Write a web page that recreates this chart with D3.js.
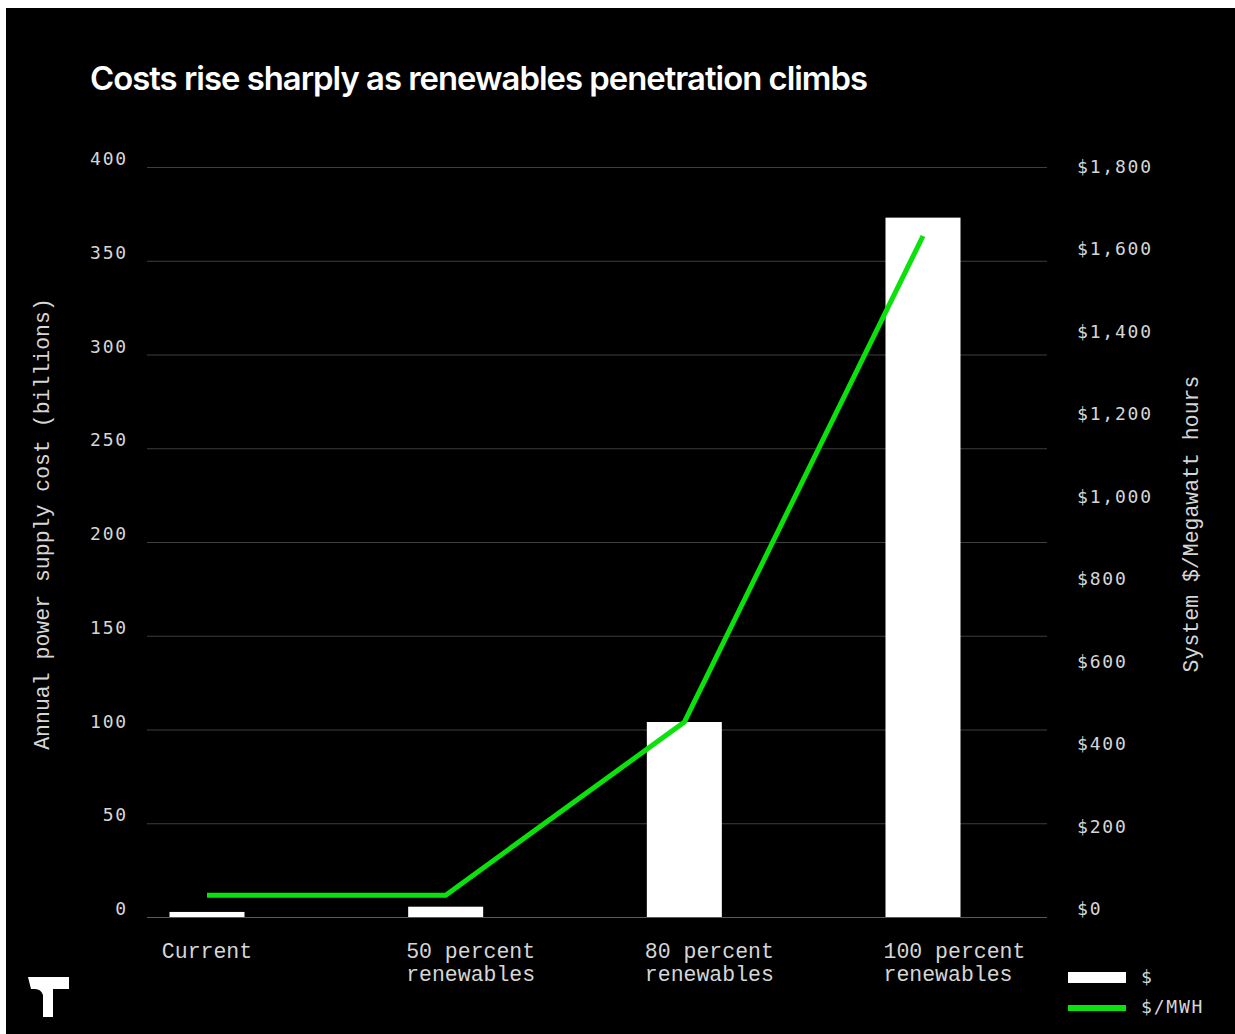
<!DOCTYPE html>
<html>
<head>
<meta charset="utf-8">
<script src="https://cdn.jsdelivr.net/npm/d3@7"></script>
<style>
  body { margin: 0; background: #fff; }
  svg { display: block; }
</style>
</head>
<body>
<div id="chart"></div>
<script>
var width = 1235;
var height = 1034;

// data
var categories = ["Current", "50 percent renewables", "80 percent renewables", "100 percent renewables"];
var categoryLines = [["Current"], ["50 percent", "renewables"], ["80 percent", "renewables"], ["100 percent", "renewables"]];
var costBillions = [2.7, 5.5, 104, 373];
var costPerMWh = [36, 36, 456, 1635];
var leftTicks = [0, 50, 100, 150, 200, 250, 300, 350, 400];
var rightTicks = [0, 200, 400, 600, 800, 1000, 1200, 1400, 1600, 1800];

var svg = d3.select("#chart")
    .append("svg")
    .attr("width", width)
    .attr("height", height);

svg.append("rect")
    .attr("x", 6)
    .attr("y", 8)
    .attr("width", width - 6)
    .attr("height", height - 8)
    .attr("fill", "#000");

svg.append("text")
    .attr("x", 90)
    .attr("y", 90)
    .attr("fill", "#fff")
    .attr("font-family", "Inter, 'Open Sans', sans-serif")
    .attr("font-weight", 600)
    .attr("font-size", 33)
    .attr("letter-spacing", -1)
    .attr("textLength", 777)
    .attr("lengthAdjust", "spacingAndGlyphs")
    .text("Costs rise sharply as renewables penetration climbs");

var xScale = d3.scalePoint().domain(categories).range([207, 923]);
var yLeft = d3.scaleLinear().domain([0, 400]).range([917, 167]);
var yRight = d3.scaleLinear().domain([0, 1800]).range([910, 168]);
var barWidth = 75;

// gridlines
svg.append("g")
    .selectAll("line")
    .data(leftTicks)
    .enter()
    .append("line")
    .attr("x1", 147)
    .attr("x2", 1047)
    .attr("y1", function(d) { return yLeft(d) + 0.5; })
    .attr("y2", function(d) { return yLeft(d) + 0.5; })
    .attr("stroke", function(d) { return d === 0 ? "#5a5a5a" : "#3e3e3e"; })
    .attr("stroke-width", 1.2);

// left tick labels
svg.append("g")
    .selectAll("text")
    .data(leftTicks)
    .enter()
    .append("text")
    .attr("x", 128)
    .attr("y", function(d) { return yLeft(d) - 7; })
    .attr("text-anchor", "end")
    .attr("dominant-baseline", "middle")
    .attr("fill", "#d6d6d6")
    .attr("font-family", "'DejaVu Sans Mono', monospace")
    .attr("font-size", 18)
    .attr("letter-spacing", 1.8)
    .text(function(d) { return d; });

// right tick labels
var fmt = d3.format(",");
svg.append("g")
    .selectAll("text")
    .data(rightTicks)
    .enter()
    .append("text")
    .attr("x", 1077)
    .attr("y", function(d) { return yRight(d); })
    .attr("dominant-baseline", "middle")
    .attr("fill", "#d6d6d6")
    .attr("font-family", "'DejaVu Sans Mono', monospace")
    .attr("font-size", 18)
    .attr("letter-spacing", 1.8)
    .text(function(d) { return "$" + fmt(d); });

// axis titles
svg.append("text")
    .attr("transform", "translate(49,524) rotate(-90)")
    .attr("text-anchor", "middle")
    .attr("fill", "#d6d6d6")
    .attr("font-family", "'Liberation Mono', monospace")
    .attr("font-size", 21.5)
    .text("Annual power supply cost (billions)");

svg.append("text")
    .attr("transform", "translate(1198,524) rotate(-90)")
    .attr("text-anchor", "middle")
    .attr("fill", "#d6d6d6")
    .attr("font-family", "'Liberation Mono', monospace")
    .attr("font-size", 21.5)
    .text("System $/Megawatt hours");

// bars
svg.append("g")
    .selectAll(".bar")
    .data(categories)
    .enter()
    .append("rect")
    .attr("class", "bar")
    .attr("x", function(d) { return xScale(d) - barWidth / 2; })
    .attr("y", function(d, i) { return yLeft(costBillions[i]); })
    .attr("width", barWidth)
    .attr("height", function(d, i) { return yLeft(0) - yLeft(costBillions[i]); })
    .attr("fill", "#fff");

// $/MWh line
var line = d3.line()
    .x(function(d, i) { return xScale(categories[i]); })
    .y(function(d) { return yRight(d); });

svg.append("path")
    .datum(costPerMWh)
    .attr("d", line)
    .attr("fill", "none")
    .attr("stroke", "#0be10b")
    .attr("stroke-width", 5);

// category labels
var cat = svg.append("g")
    .selectAll("text")
    .data(categories)
    .enter()
    .append("text")
    .attr("fill", "#d6d6d6")
    .attr("font-family", "'Liberation Mono', monospace")
    .attr("font-size", 21.5)
    .attr("text-anchor", function(d, i) { return categoryLines[i].length > 1 ? "start" : "middle"; })
    .attr("x", function(d, i) {
        return categoryLines[i].length > 1 ? xScale(d) - barWidth / 2 - 2 : xScale(d);
    });

cat.selectAll("tspan")
    .data(function(d, i) { return categoryLines[i]; })
    .enter()
    .append("tspan")
    .attr("x", function() { return d3.select(this.parentNode).attr("x"); })
    .attr("y", function(d, j) { return 958 + j * 22.5; })
    .text(function(d) { return d; });

// legend
var legend = svg.append("g");
legend.append("rect")
    .attr("x", 1068).attr("y", 972)
    .attr("width", 58).attr("height", 11)
    .attr("fill", "#fff");
legend.append("rect")
    .attr("x", 1068).attr("y", 1005)
    .attr("width", 58).attr("height", 6)
    .attr("fill", "#0be10b");
legend.append("text")
    .attr("x", 1141).attr("y", 978)
    .attr("dominant-baseline", "middle")
    .attr("fill", "#d6d6d6")
    .attr("font-family", "'DejaVu Sans Mono', monospace")
    .attr("font-size", 18)
    .attr("letter-spacing", 1.8)
    .text("$");
legend.append("text")
    .attr("x", 1141).attr("y", 1008)
    .attr("dominant-baseline", "middle")
    .attr("fill", "#d6d6d6")
    .attr("font-family", "'DejaVu Sans Mono', monospace")
    .attr("font-size", 18)
    .attr("letter-spacing", 1.8)
    .text("$/MWH");

// logo
svg.append("path")
    .attr("d", "M28,977 L69,977 L69,989 L53,989 L53,1017 L43,1017 L43,995 Q41,989 35,989 L31,989 Z")
    .attr("fill", "#fff");
</script>
</body>
</html>
